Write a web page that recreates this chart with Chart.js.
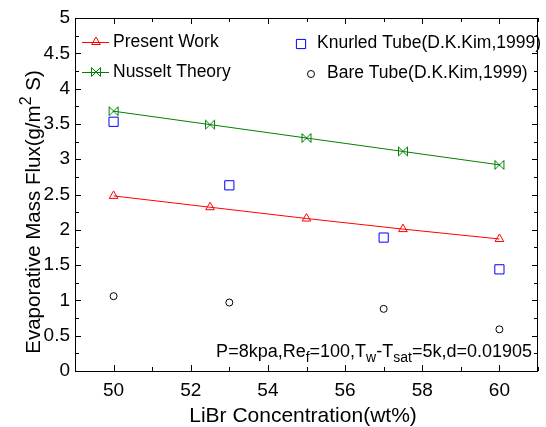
<!DOCTYPE html>
<html>
<head>
<meta charset="utf-8">
<script src="https://cdn.jsdelivr.net/npm/chart.js@4/dist/chart.umd.min.js"></script>
<style>
  html, body { margin: 0; padding: 0; background: #fff; }
  canvas { display: block; }
</style>
</head>
<body>
<canvas id="flux" width="546" height="427"></canvas>
<script>
const concentration = [50, 52.5, 55, 57.5, 60];
const presentWork = [2.48, 2.32, 2.16, 2.01, 1.87];
const nusseltTheory = [3.68, 3.49, 3.30, 3.11, 2.92];
const kimConcentration = [50, 53, 57, 60];
const knurledTube = [3.53, 2.63, 1.89, 1.44];
const bareTube = [1.06, 0.97, 0.88, 0.59];
const xTickLabels = [50, 52, 54, 56, 58, 60];
const yTickLabels = [0, 0.5, 1, 1.5, 2, 2.5, 3, 3.5, 4, 4.5, 5];

const FONT = '"Liberation Sans", Arial, sans-serif';
const GREEN = '#008000';

function toPoints(xs, ys) {
    return xs.map((x, i) => ({ x: x, y: ys[i] }));
}

function makeBowtie(color) {
    const c = document.createElement('canvas');
    c.width = 12;
    c.height = 12;
    const g = c.getContext('2d');
    g.strokeStyle = color;
    g.lineWidth = 1;
    g.beginPath();
    g.moveTo(1.5, 1.5); g.lineTo(10.5, 10.5);
    g.moveTo(1.5, 10.5); g.lineTo(10.5, 1.5);
    g.moveTo(1.5, 1.5); g.lineTo(1.5, 10.5);
    g.moveTo(10.5, 1.5); g.lineTo(10.5, 10.5);
    g.stroke();
    return c;
}

const bowtie = makeBowtie(GREEN);

// draws text with sub / sup pieces, returns width
function drawRich(ctx, parts, x, y, size, measureOnly) {
    let cx = x;
    parts.forEach((p) => {
        const small = p.sub || p.sup;
        ctx.font = (small ? Math.round(size * 0.8) : size) + 'px ' + FONT;
        const dy = p.sub ? size * 0.3 : (p.sup ? -size * 0.45 : 0);
        if (!measureOnly) {
            ctx.fillText(p.t, cx, y + dy);
        }
        cx += ctx.measureText(p.t).width;
    });
    return cx - x;
}

function legendMarker(ctx, style, radius, color, x, y) {
    ctx.fillStyle = 'rgba(0,0,0,0)';
    ctx.strokeStyle = color;
    Chart.helpers.drawPoint(ctx, { pointStyle: style, radius: radius, borderWidth: 1 }, x, y);
}

const decorPlugin = {
    id: 'decor',
    afterDatasetsDraw(chart) {
        const ctx = chart.ctx;
        const area = chart.chartArea;
        const xs = chart.scales.x;
        const ys = chart.scales.y;

        ctx.save();
        ctx.strokeStyle = '#000';
        ctx.lineWidth = 1;
        ctx.strokeRect(Math.round(area.left) + 0.5, Math.round(area.top) + 0.5,
            Math.round(area.right - area.left) - 1, Math.round(area.bottom - area.top));

        // inward ticks on all four sides
        ctx.beginPath();
        for (let v = 49; v <= 61; v += 1) {
            const px = Math.round(xs.getPixelForValue(v)) + 0.5;
            const len = v % 2 === 0 ? 6 : 4;
            ctx.moveTo(px, area.bottom);
            ctx.lineTo(px, area.bottom - len);
            ctx.moveTo(px, area.top);
            ctx.lineTo(px, area.top + len);
        }
        for (let v = 0; v <= 5.001; v += 0.25) {
            const py = Math.round(ys.getPixelForValue(v)) + 0.5;
            const len = Math.abs(v * 2 - Math.round(v * 2)) < 0.01 ? 6 : 4;
            ctx.moveTo(area.left, py);
            ctx.lineTo(area.left + len, py);
            ctx.moveTo(area.right, py);
            ctx.lineTo(area.right - len, py);
        }
        ctx.stroke();

        // legend
        ctx.strokeStyle = 'red';
        ctx.beginPath();
        ctx.moveTo(82, 42.5);
        ctx.lineTo(109, 42.5);
        ctx.stroke();
        legendMarker(ctx, 'triangle', 5, 'red', 96, 42);

        ctx.strokeStyle = GREEN;
        ctx.beginPath();
        ctx.moveTo(82, 72.5);
        ctx.lineTo(109, 72.5);
        ctx.stroke();
        ctx.drawImage(bowtie, 90, 66);

        legendMarker(ctx, 'rect', 6.5, 'blue', 301, 44);
        legendMarker(ctx, 'circle', 3.5, '#000', 311, 74);

        ctx.fillStyle = '#000';
        ctx.textBaseline = 'middle';
        ctx.textAlign = 'left';
        ctx.font = '17.5px ' + FONT;
        ctx.fillText('Present Work', 113, 42);
        ctx.fillText('Nusselt Theory', 113, 72);
        ctx.fillText('Knurled Tube(D.K.Kim,1999)', 317, 43);
        ctx.fillText('Bare Tube(D.K.Kim,1999)', 327, 73);

        // condition note
        const note = [
            { t: 'P=8kpa,Re' }, { t: 'f', sub: true }, { t: '=100,T' }, { t: 'w', sub: true },
            { t: '-T' }, { t: 'sat', sub: true }, { t: '=5k,d=0.01905' }
        ];
        ctx.textBaseline = 'alphabetic';
        const w = drawRich(ctx, note, 0, 0, 18, true);
        drawRich(ctx, note, 532 - w, 357, 18, false);

        // axis titles
        ctx.textAlign = 'center';
        ctx.font = '21px ' + FONT;
        ctx.fillText('LiBr Concentration(wt%)', 303, 422);

        const yTitle = [{ t: 'Evaporative Mass Flux(g/m' }, { t: '2', sup: true }, { t: ' S)' }];
        ctx.textAlign = 'left';
        const tw = drawRich(ctx, yTitle, 0, 0, 20.5, true);
        ctx.translate(40, 212);
        ctx.rotate(-Math.PI / 2);
        drawRich(ctx, yTitle, -tw / 2, 0, 20.5, false);
        ctx.restore();
    }
};

new Chart(document.getElementById('flux'), {
    type: 'scatter',
    data: {
        datasets: [
            {
                label: 'Present Work',
                data: toPoints(concentration, presentWork),
                showLine: true,
                borderColor: 'red',
                borderWidth: 1,
                pointStyle: 'triangle',
                pointRadius: 5,
                pointBorderColor: 'red',
                pointBackgroundColor: 'rgba(0,0,0,0)',
                pointBorderWidth: 1,
            },
            {
                label: 'Nusselt Theory',
                data: toPoints(concentration, nusseltTheory),
                showLine: true,
                borderColor: GREEN,
                borderWidth: 1,
                pointStyle: bowtie,
            },
            {
                label: 'Knurled Tube(D.K.Kim,1999)',
                data: toPoints(kimConcentration, knurledTube),
                pointStyle: 'rect',
                pointRadius: 6.5,
                pointBorderColor: 'blue',
                pointBackgroundColor: 'rgba(0,0,0,0)',
                pointBorderWidth: 1,
            },
            {
                label: 'Bare Tube(D.K.Kim,1999)',
                data: toPoints(kimConcentration, bareTube),
                pointStyle: 'circle',
                pointRadius: 3.5,
                pointBorderColor: '#000',
                pointBackgroundColor: 'rgba(0,0,0,0)',
                pointBorderWidth: 1,
            },
        ],
    },
    options: {
        responsive: false,
        animation: false,
        layout: { padding: { top: 18, right: 1, left: 0, bottom: 0 } },
        plugins: {
            legend: { display: false },
            tooltip: { enabled: false },
        },
        scales: {
            x: {
                type: 'linear',
                min: 49,
                max: 61,
                afterFit: (scale) => { scale.height = 56; },
                grid: { display: false, drawTicks: false },
                border: { display: false },
                ticks: {
                    stepSize: 1,
                    padding: 8,
                    color: '#000',
                    font: { family: FONT, size: 19 },
                    maxRotation: 0,
                    autoSkip: false,
                    callback: (v) => (xTickLabels.includes(v) ? String(v) : ''),
                },
            },
            y: {
                type: 'linear',
                min: 0,
                max: 5,
                afterFit: (scale) => { scale.width = 75; },
                grid: { display: false, drawTicks: false },
                border: { display: false },
                ticks: {
                    stepSize: 0.5,
                    padding: 5,
                    color: '#000',
                    font: { family: FONT, size: 19 },
                    autoSkip: false,
                    callback: (v) => (yTickLabels.includes(v) ? String(v) : ''),
                },
            },
        },
    },
    plugins: [decorPlugin],
});
</script>
</body>
</html>
